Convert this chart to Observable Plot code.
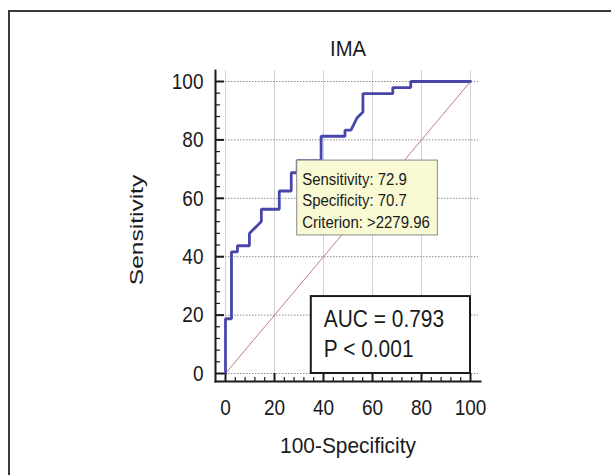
<!DOCTYPE html>
<html><head><meta charset="utf-8">
<script src="https://cdn.jsdelivr.net/npm/d3@7"></script>
<script src="https://cdn.jsdelivr.net/npm/@observablehq/plot@0.6"></script>
<style>
body{margin:0;background:#fff;}
#wrap{position:relative;width:611px;height:475px;overflow:hidden;background:#fff;}
#frame{position:absolute;left:8px;top:10px;width:700px;height:600px;border-top:2px solid #3a3a3a;border-left:2px solid #3a3a3a;}
#chart{position:absolute;left:0;top:0;}
</style></head>
<body><div id="wrap"><div id="frame"></div><div id="chart"></div></div>
<script>
const title = "IMA";
const xLabel = "100-Specificity";
const yLabel = "Sensitivity";
const xTicks = [0, 20, 40, 60, 80, 100];
const yTicks = [0, 20, 40, 60, 80, 100];
const minorTicks = [4, 8, 12, 16, 24, 28, 32, 36, 44, 48, 52, 56, 64, 68, 72, 76, 84, 88, 92, 96];
// ROC points: 100-Specificity (%) and Sensitivity (%)
const fpr  = [0, 0, 2.44, 2.44, 4.88, 4.88, 9.76, 9.76, 14.63, 14.63, 21.95, 21.95, 26.83, 26.83, 29.27, 29.27, 39.02, 39.02, 48.78, 48.78, 51.22, 53.66, 56.10, 56.10, 68.29, 68.29, 75.61, 75.61, 100];
const sens = [0, 18.75, 18.75, 41.67, 41.67, 43.75, 43.75, 47.92, 52.08, 56.25, 56.25, 62.5, 62.5, 68.75, 68.75, 72.92, 72.92, 81.25, 81.25, 83.33, 83.33, 87.5, 89.58, 95.83, 95.83, 97.92, 97.92, 100, 100];
const diagX = [0, 100];
const diagY = [0, 100];
const criterionFpr = 29.27;
const criterionSens = 72.92;
const criterionLines = ["Sensitivity: 72.9", "Specificity: 70.7", "Criterion: >2279.96"];
const aucLines = ["AUC = 0.793", "P < 0.001"];

const roc = fpr.map((x, i) => ({x, y: sens[i]}));
const diag = diagX.map((x, i) => ({x, y: diagY[i]}));
const tipFS = 17;
const aucFS = 23.5;

const plot = Plot.plot({
  width: 611, height: 475,
  marginLeft: 215, marginRight: 131, marginTop: 70, marginBottom: 94,
  x: {domain: [0, 100], insetLeft: 10, insetRight: 10},
  y: {domain: [0, 100], insetTop: 11, insetBottom: 8},
  style: {fontFamily: "'Liberation Sans', Arial, sans-serif", background: "transparent", overflow: "visible", color: "#1a1a1a"},
  marks: [
    Plot.gridX(xTicks, {stroke: "#d2d2d2", strokeOpacity: 1, strokeWidth: 1}),
    Plot.gridY(yTicks, {stroke: "#8c8c8c", strokeOpacity: 1, strokeWidth: 1, strokeDasharray: "1.5,1.5", insetLeft: 4, insetRight: 2}),
    Plot.line(diag, {x: "x", y: "y", stroke: "#c47d7d", strokeWidth: 1}),
    Plot.line(roc, {x: "x", y: "y", stroke: "#4747aa", strokeWidth: 2.8, strokeLinejoin: "miter"}),
    Plot.frame({anchor: "left", stroke: "#1a1a1a", strokeWidth: 2}),
    Plot.frame({anchor: "bottom", stroke: "#1a1a1a", strokeWidth: 2}),
    Plot.axisX(xTicks, {tickSize: -8, fill: "none", stroke: "#1a1a1a", strokeWidth: 2, label: null}),
    Plot.axisX(minorTicks, {tickSize: -4, fill: "none", stroke: "#1a1a1a", strokeWidth: 1.2, label: null}),
    Plot.axisX(xTicks, {tickSize: 0, tickPadding: 18, fontSize: 22.5, label: null}),
    Plot.axisY(yTicks, {tickSize: -9, fill: "none", stroke: "#1a1a1a", strokeWidth: 2, label: null}),
    Plot.axisY(minorTicks, {tickSize: -5, fill: "none", stroke: "#1a1a1a", strokeWidth: 1.2, label: null}),
    Plot.axisY(yTicks, {tickSize: 0, tickPadding: 12, fontSize: 22.5, label: null}),
    Plot.text([title], {frameAnchor: "top", dy: -15, lineAnchor: "bottom", fontSize: 22.5}),
    Plot.text([yLabel], {frameAnchor: "left", textAnchor: "middle", rotate: -90, dx: -79, dy: 4, fontSize: 24.5}),
    Plot.text([xLabel], {frameAnchor: "bottom", dy: 71, lineAnchor: "bottom", fontSize: 22}),
    Plot.text([aucLines.join("\n")], {x: () => xTicks[xTicks.length - 1], y: () => yTicks[0], textAnchor: "start", lineAnchor: "bottom", lineHeight: 30 / aucFS, dx: -146.7, dy: -16.3, fontSize: aucFS}),
    Plot.text([criterionLines.join("\n")], {x: () => criterionFpr, y: () => criterionSens, textAnchor: "start", lineAnchor: "top", lineHeight: 21.6 / tipFS, dx: 5, dy: 20.7 - 0.71 * tipFS, fontSize: tipFS})
  ]
});
document.getElementById("chart").append(plot);

const svg = d3.select(plot);
const svgRect = plot.getBoundingClientRect();
const texts = svg.selectAll("text");
const findText = (s) => texts.filter(function() { return this.textContent === s; });
const findStart = (s) => texts.filter(function() { return this.textContent.startsWith(s); });
// the reference renders its text condensed: squeeze glyphs horizontally around their anchor
function squeeze(sel, sx, sy = 1) {
  sel.each(function() {
    const t = this.getAttribute("transform") || "";
    this.setAttribute("transform", `${t} scale(${sx},${sy})`);
  });
}
squeeze(svg.selectAll('g[aria-label="x-axis tick label"] text, g[aria-label="y-axis tick label"] text'), 0.845);
squeeze(findText(title), 0.9);
squeeze(findText(xLabel), 0.95);
squeeze(findText(yLabel), 1, 0.78);
const aucText = findStart("AUC");
const tipText = findStart("Sensitivity:");
squeeze(aucText, 0.89);
squeeze(tipText, 0.88);

const rel = (node) => {
  const r = node.getBoundingClientRect();
  return {left: r.left - svgRect.left, top: r.top - svgRect.top, right: r.right - svgRect.left, bottom: r.bottom - svgRect.top};
};
const sxs = plot.scale("x"), sys = plot.scale("y");
function boxBefore(node, left, top, right, bottom, fill, stroke, sw) {
  const g = node.parentNode;
  const rect = document.createElementNS("http://www.w3.org/2000/svg", "rect");
  g.parentNode.insertBefore(rect, g);
  d3.select(rect)
    .attr("x", left).attr("y", top).attr("width", right - left).attr("height", bottom - top)
    .attr("fill", fill).attr("stroke", stroke).attr("stroke-width", sw);
}
{
  const node = aucText.node();
  const r = rel(node);
  boxBefore(node, r.left - 13, r.top - 10, sxs.apply(xTicks[xTicks.length - 1]), sys.apply(yTicks[0]), "#fff", "#1a1a1a", 2);
}
{
  const node = tipText.node();
  const r = rel(node);
  boxBefore(node, sxs.apply(criterionFpr), sys.apply(criterionSens), r.right + 7.5, r.bottom + 4, "#f9f9d4", "#8a8a8a", 1);
}
</script>
</body></html>
